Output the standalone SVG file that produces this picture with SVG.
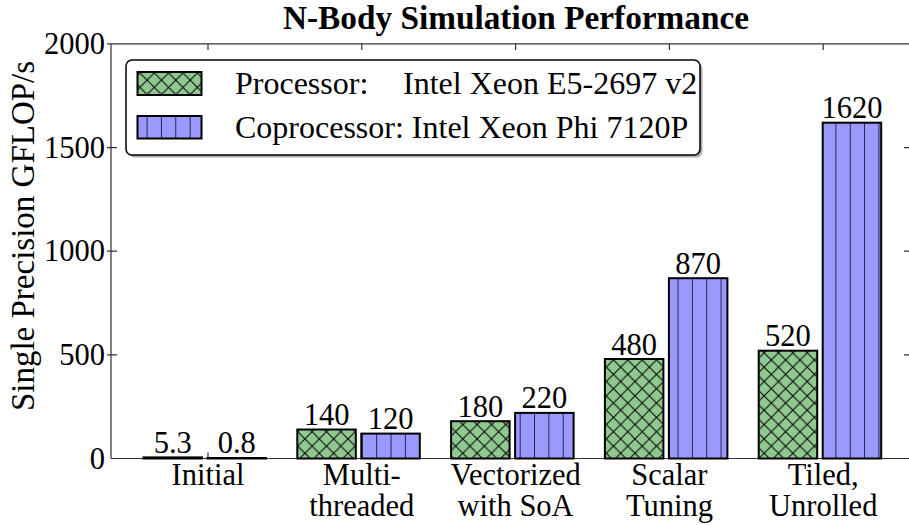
<svg xmlns="http://www.w3.org/2000/svg" width="909" height="525" viewBox="0 0 909 525">
<defs>
<pattern id="hx" patternUnits="userSpaceOnUse" width="14.35" height="14.35" patternTransform="translate(3.6 8.4)">
<rect width="14.35" height="14.35" fill="#90c890"/>
<path d="M0 0L14.35 14.35M0 14.35L14.35 0M-1 1L1 -1M13.35 15.35L15.35 13.35M-1 13.35L1 15.35M13.35 -1L15.35 1" stroke="#000" stroke-width="1" fill="none"/>
</pattern>
<pattern id="hv" patternUnits="userSpaceOnUse" width="14.35" height="14.35" patternTransform="translate(-3.6 0)">
<rect width="14.35" height="14.35" fill="#9999ff"/>
<path d="M7.175 0V14.35" stroke="#222244" stroke-width="1" fill="none"/>
</pattern>
</defs>
<style>
text{font-family:"Liberation Serif","Times New Roman",serif;fill:#000}
.t{font-size:30.5px}
.lg{font-size:32px}
.c{text-anchor:middle}
.r{text-anchor:end}
.yl{font-size:33px;text-anchor:middle}
.title{font-size:33.3px;font-weight:bold;text-anchor:middle}
.g{fill:url(#hx);stroke:#000;stroke-width:2}
.b{fill:url(#hv);stroke:#000;stroke-width:2}
.ax{stroke:#333;stroke-width:1.2;fill:none}
</style>
<rect width="909" height="525" fill="#fff"/>
<text class="title" x="516" y="29">N-Body Simulation Performance</text>
<g id="axes">
<path class="ax" d="M111 43.9H909M111 43.9V458.5M111 458.5H909"/>
<path class="ax" d="M107 354.9h10M107 251.2h10M107 147.6h10M107 43.9h4M909 354.9h-5M909 251.2h-5M909 147.6h-5M909 458.5h-5"/>
<path class="ax" d="M208 43.9v6M361.8 43.9v6M515.6 43.9v6M669.4 43.9v6M823.2 43.9v6M208 458.5v-6M361.8 458.5v-6M515.6 458.5v-6M669.4 458.5v-6M823.2 458.5v-6"/>
<text class="t r" x="105" y="469">0</text>
<text class="t r" x="105" y="365">500</text>
<text class="t r" x="105" y="261">1000</text>
<text class="t r" x="105" y="158">1500</text>
<text class="t r" x="105" y="54">2000</text>
<text class="yl" transform="translate(34 236) rotate(-90)">Single Precision GFLOP/s</text>
</g>
<g id="cat-initial">
<rect class="g" x="143.5" y="457.4" width="58.5" height="1.1"/>
<rect class="b" x="207.5" y="458" width="58.5" height="0.5"/>
<text class="t c" x="172.7" y="453">5.3</text>
<text class="t c" x="236.7" y="453">0.8</text>
<text class="t c" x="208" y="485">Initial</text>
</g>
<g id="cat-multi">
<rect class="g" x="297.3" y="429.5" width="58.5" height="29"/>
<rect class="b" x="361.3" y="433.6" width="58.5" height="24.9"/>
<text class="t c" x="326.5" y="425">140</text>
<text class="t c" x="390.5" y="429">120</text>
<text class="t c" x="361.8" y="485">Multi-</text>
<text class="t c" x="361.8" y="516">threaded</text>
</g>
<g id="cat-vectorized">
<rect class="g" x="451.1" y="421.2" width="58.5" height="37.3"/>
<rect class="b" x="515.1" y="412.9" width="58.5" height="45.6"/>
<text class="t c" x="480.3" y="417">180</text>
<text class="t c" x="544.3" y="408">220</text>
<text class="t c" x="515.6" y="485">Vectorized</text>
<text class="t c" x="515.6" y="516">with SoA</text>
</g>
<g id="cat-scalar">
<rect class="g" x="604.9" y="359" width="58.5" height="99.5"/>
<rect class="b" x="668.9" y="278.2" width="58.5" height="180.3"/>
<text class="t c" x="634.1" y="354.5">480</text>
<text class="t c" x="698.1" y="273.5">870</text>
<text class="t c" x="669.4" y="485">Scalar</text>
<text class="t c" x="669.4" y="516">Tuning</text>
</g>
<g id="cat-tiled">
<rect class="g" x="758.7" y="350.7" width="58.5" height="107.8"/>
<rect class="b" x="822.7" y="122.7" width="58.5" height="335.8"/>
<text class="t c" x="787.9" y="346">520</text>
<text class="t c" x="851.9" y="118">1620</text>
<text class="t c" x="823.2" y="485">Tiled,</text>
<text class="t c" x="823.2" y="516">Unrolled</text>
</g>
<g id="legend">
<rect x="128.5" y="62.5" width="574" height="95" rx="6" fill="#777" opacity="0.6"/>
<rect x="126" y="60" width="574" height="95" rx="6" fill="#fff" stroke="#000" stroke-width="1.5"/>
<rect class="g" x="137.5" y="72" width="64" height="23"/>
<rect class="b" x="137.5" y="116" width="64" height="22.5"/>
<text class="lg" x="235" y="94">Processor:<tspan x="403">Intel Xeon E5-2697 v2</tspan></text>
<text class="lg" x="235" y="138">Coprocessor: Intel Xeon Phi 7120P</text>
</g>
</svg>
